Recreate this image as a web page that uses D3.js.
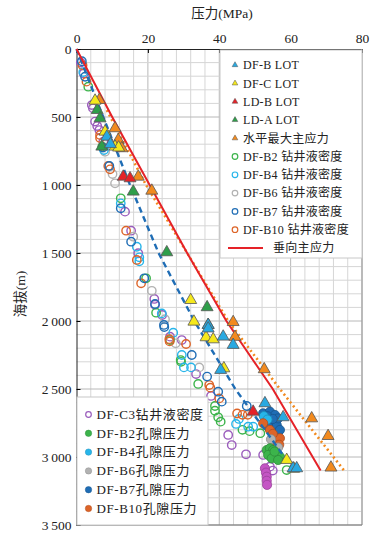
<!DOCTYPE html>
<html>
<head>
<meta charset="utf-8">
<script src="https://cdn.jsdelivr.net/npm/d3@7"></script>
<style>
  body { margin: 0; background: #fff; }
  svg text { font-family: "Liberation Serif", "DejaVu Serif", "Noto Sans CJK SC", serif !important; fill: #222; }
</style>
</head>
<body>
<script>
// ---- data: [pressure MPa, elevation m] ----
var xTicks = [0, 20, 40, 60, 80],
    yTicks = [0, 500, 1000, 1500, 2000, 2500, 3000, 3500];

// LOT / stress triangles
var dfbLot = [[8.5,645],[9.5,700],[36.9,2029],[41.1,2115],[43.9,2176],[36.9,2055],[40.4,2360],[52.8,2605],[57.9,2708],[60.7,3083],[61.7,3083]];
var dfcLot = [[5.2,380],[8.0,608],[10.8,718],[11.8,725],[32.0,1846],[32.9,2005],[36.3,2120],[38.3,2135],[41.3,2348],[58.9,3022],[60.9,3086]];
var ldbLot = [[13.1,939],[15.0,951],[49.5,2667]];
var ldaLot = [[5.8,449],[6.6,510],[7.1,718],[15.9,1049],[25.3,1495],[36.6,1899],[36.9,2029]];
var shMax  = [[6.4,375],[10.8,583],[11.7,669],[12.7,730],[17.3,939],[21.1,1042],[43.9,2008],[44.4,2117],[52.6,2355],[65.9,2716],[70.5,2846],[71.3,3078]];

// drilling fluid density (open circles)
var dfb2Mud  = [[3.3,277],[7.2,718],[12.4,1098],[19.5,1686],[22.3,1939],[26.2,2140],[29.2,2287],[29.3,2300],[34.1,2463],[38.8,2625],[38.8,2660],[39.7,2708],[40.4,2740],[46.5,2800],[48.5,2810],[51.5,2825],[58.9,3096]];
var dfb4Mud  = [[1.9,170],[7.7,743],[12.4,1135],[16.9,1454],[17.6,1532],[17.6,1561],[23.9,1944],[27.1,2086],[29.5,2250],[30.1,2341],[32.1,2341],[44.7,2757],[45.5,2720],[48.1,2777],[49.5,2777]];
var dfb6Mud  = [[8.0,755],[10.1,919],[10.8,988],[15.9,1380],[21.1,1778],[24.8,1987],[27.8,2164],[34.4,2341]];
var dfb7Mud  = [[1.5,90],[2.4,204],[7.4,725],[9.2,860],[12.4,1171],[15.3,1417],[19.0,1686],[22.0,1875],[24.5,2029],[24.6,2045],[32.3,2250],[36.6,2409],[39.7,2520],[40.7,2593],[47.7,2625]];
var dfb10Mud = [[1.7,120],[2.8,240],[6.6,632],[6.6,654],[8.9,860],[9.4,885],[13.9,1336],[16.9,1551],[18.1,1723],[26.0,2134],[26.1,2150],[30.7,2169],[37.2,2471],[37.5,2490],[40.0,2569],[45.0,2680],[46.5,2690],[48.0,2690]];
var dfc3Mud  = [[1.2,100],[2.0,180],[4.3,412],[4.6,435],[5.2,534],[5.8,566],[6.4,596],[7.5,682],[13.6,1196],[15.3,1336],[17.3,1502],[21.8,1838],[22.0,1880],[24.0,1956],[26.2,2115],[29.5,2140],[33.5,2390],[37.7,2551],[42.5,2838],[43.5,2912],[47.5,2980],[52.3,2985],[54.2,3071],[55.0,3100]];

// pore pressure (filled circles)
var dfb2Pore  = [[53.3,2949],[54.2,2936],[55.1,2949],[56.1,2973],[57.0,2998],[53.7,2985],[54.7,3010],[56.5,3022],[55.5,2960]];
var dfb4Pore  = [[52.5,2700],[53.5,2725]];
var dfb6Pore  = [[54.5,2870],[56.5,2930]];
var dfb7Pore  = [[52.3,2679],[54.2,2667],[55.6,2691],[54.7,2740],[56.1,2765],[53.7,2777],[57.0,2801],[56.5,2716],[53.5,2700],[55.0,2720]];
var dfb10Pore = [[54.2,2801],[56.1,2887],[57.0,2862],[52.3,2752],[55.0,2830],[56.8,2910]];
var dfc3Pore  = [[52.8,3083],[53.1,3115],[53.3,3145],[53.3,3175],[53.4,3205]];

// trend lines
var svLine    = [[0,0],[10,500],[20.5,1000],[31,1500],[42,2000],[55,2500],[68.4,3100]];
var shMaxLine = [[8.5,450],[19.5,1000],[31,1500],[42.5,2000],[57,2500],[75,3100]];
var ppLine    = [[0,0],[7.5,500],[15,1000],[23,1500],[33,2000],[44.5,2500],[60.5,3080]];

// colours
var cBlue = "#29a9e1", cYellow = "#f5e81c", cRed = "#e52228", cGreen = "#2f9e4a", cOrange = "#f28a1e",
    cGreenC = "#3cb44b", cCyan = "#27b5ea", cGray = "#b2b2b2", cBlueC = "#1f6db5", cOrangeC = "#dd6428",
    cPurple = "#9a5cbc", cMagenta = "#c455c4";

var FONT = '"Liberation Serif", "DejaVu Serif", "Noto Sans CJK SC", serif';

////////////////
/// SETUP    ///
////////////////
var W = 391, H = 536;
var x = d3.scaleLinear().domain([0, 80]).range([76.5, 362]),
    y = d3.scaleLinear().domain([0, 3500]).range([49, 525]);

var svg = d3.select("body").append("svg")
    .attr("width", W).attr("height", H)
    .attr("font-family", FONT);

// grid
var grid = svg.append("g").attr("class", "grid");
d3.range(4, 81, 4).forEach(function(v) {
  grid.append("line")
    .attr("x1", x(v)).attr("x2", x(v)).attr("y1", y(0)).attr("y2", y(3500))
    .attr("stroke", v % 20 == 0 ? "#b8b8b8" : "#d6d6d6").attr("stroke-width", 1);
});
d3.range(100, 3501, 100).forEach(function(v) {
  grid.append("line")
    .attr("x1", x(0)).attr("x2", x(80)).attr("y1", y(v)).attr("y2", y(v))
    .attr("stroke", v % 500 == 0 ? "#b8b8b8" : "#d6d6d6").attr("stroke-width", 1);
});

// axes
var fmt = function(d) { return d >= 1000 ? Math.floor(d / 1000) + "\u2009" + d3.format("03")(d % 1000) : d; };

svg.append("g")
    .attr("transform", "translate(0," + y(0) + ")")
    .call(d3.axisTop(x).tickValues(xTicks).tickSize(-4).tickPadding(6))
    .attr("font-family", FONT)
    .call(function(g) {
      g.select(".domain").attr("stroke", "#222");
      g.selectAll("text").attr("font-size", 13.5).attr("fill", "#222");
    });

svg.append("g")
    .attr("transform", "translate(" + x(0) + ",0)")
    .call(d3.axisLeft(y).tickValues(yTicks).tickFormat(fmt).tickSize(-4).tickPadding(5))
    .attr("font-family", FONT)
    .call(function(g) {
      g.select(".domain").attr("stroke", "#222");
      g.selectAll("text").attr("font-size", 13.5).attr("fill", "#222");
    });

// axis titles
svg.append("text").attr("x", 222).attr("y", 18).attr("text-anchor", "middle")
    .attr("font-size", 13.5).text("压力(MPa)");
svg.append("text").attr("transform", "translate(25,294) rotate(-90)").attr("text-anchor", "middle")
    .attr("font-size", 13.5).text("海拔(m)");

var plot = svg.append("g");

function openCircles(data, color) {
  plot.selectAll(null).data(data).enter().append("circle")
    .attr("cx", function(d) { return x(d[0]); })
    .attr("cy", function(d) { return y(d[1]); })
    .attr("r", 4.2)
    .attr("fill", "none").attr("stroke", color).attr("stroke-width", 1.4);
}
function filledCircles(data, color) {
  plot.selectAll(null).data(data).enter().append("circle")
    .attr("cx", function(d) { return x(d[0]); })
    .attr("cy", function(d) { return y(d[1]); })
    .attr("r", 4.6)
    .attr("fill", color).attr("stroke", d3.color(color).darker(0.7)).attr("stroke-width", 0.8);
}
var triSym = d3.symbol().type(d3.symbolTriangle).size(62);
function triangles(data, color) {
  plot.selectAll(null).data(data).enter().append("path")
    .attr("d", triSym)
    .attr("transform", function(d) { return "translate(" + x(d[0]) + "," + y(d[1]) + ")"; })
    .attr("fill", color).attr("stroke", "#555").attr("stroke-width", 0.8);
}
var line = d3.line().x(function(d) { return x(d[0]); }).y(function(d) { return y(d[1]); });

// circles
openCircles(dfc3Mud, cPurple);
openCircles(dfb6Mud, cGray);
openCircles(dfb2Mud, cGreenC);
openCircles(dfb4Mud, cCyan);
openCircles(dfb10Mud, cOrangeC);
openCircles(dfb7Mud, cBlueC);
filledCircles(dfb7Pore, cBlueC);
filledCircles(dfb4Pore, cCyan);
filledCircles(dfb10Pore, cOrangeC);
filledCircles(dfb6Pore, cGray);
filledCircles(dfb2Pore, cGreenC);
filledCircles(dfc3Pore, cMagenta);

// trend lines
plot.append("path").datum(ppLine).attr("d", line)
    .attr("fill", "none").attr("stroke", cBlueC).attr("stroke-width", 2.4).attr("stroke-dasharray", "6,4");
plot.append("path").datum(shMaxLine).attr("d", line)
    .attr("fill", "none").attr("stroke", cOrange).attr("stroke-width", 2.6).attr("stroke-dasharray", "2,3");
plot.append("path").datum(svLine).attr("d", line)
    .attr("fill", "none").attr("stroke", cRed).attr("stroke-width", 2);

// triangles
triangles(shMax, cOrange);
triangles(ldaLot, cGreen);
triangles(dfcLot, cYellow);
triangles(dfbLot, cBlue);
triangles(ldbLot, cRed);

// plot frame (right / bottom)
svg.append("line").attr("x1", x(80)).attr("x2", x(80)).attr("y1", y(0)).attr("y2", y(3500)).attr("stroke", "#999");
svg.append("line").attr("x1", x(0)).attr("x2", x(80)).attr("y1", y(3500)).attr("y2", y(3500)).attr("stroke", "#777");

////////////////
/// LEGENDS  ///
////////////////
var legend1 = [
  {label: "DF-B LOT", type: "tri", color: cBlue},
  {label: "DF-C LOT", type: "tri", color: cYellow},
  {label: "LD-B LOT", type: "tri", color: cRed},
  {label: "LD-A LOT", type: "tri", color: cGreen},
  {label: "水平最大主应力", type: "tri", color: cOrange},
  {label: "DF-B2 钻井液密度", type: "open", color: cGreenC},
  {label: "DF-B4 钻井液密度", type: "open", color: cCyan},
  {label: "DF-B6 钻井液密度", type: "open", color: cGray},
  {label: "DF-B7 钻井液密度", type: "open", color: cBlueC},
  {label: "DF-B10 钻井液密度", type: "open", color: cOrangeC},
  {label: "垂向主应力", type: "line", color: cRed}
];
var legend2 = [
  {label: "DF-C3钻井液密度", type: "open", color: cPurple},
  {label: "DF-B2孔隙压力", type: "fill", color: cGreenC},
  {label: "DF-B4孔隙压力", type: "fill", color: cCyan},
  {label: "DF-B6孔隙压力", type: "fill", color: cGray},
  {label: "DF-B7孔隙压力", type: "fill", color: cBlueC},
  {label: "DF-B10孔隙压力", type: "fill", color: cOrangeC}
];

function drawLegend(items, box, x0, y0, step, fs, ls) {
  var g = svg.append("g");
  g.append("rect").attr("x", box[0]).attr("y", box[1]).attr("width", box[2]).attr("height", box[3])
    .attr("fill", "#fff").attr("stroke", "#c8c8c8");
  items.forEach(function(d, i) {
    var cy = y0 + i * step;
    if (d.type == "tri") {
      g.append("path").attr("d", d3.symbol().type(d3.symbolTriangle).size(14))
        .attr("transform", "translate(" + x0 + "," + cy + ")")
        .attr("fill", d.color).attr("stroke", "#555").attr("stroke-width", 0.5);
    } else if (d.type == "open") {
      g.append("circle").attr("cx", x0).attr("cy", cy).attr("r", 2.8)
        .attr("fill", "none").attr("stroke", d.color).attr("stroke-width", 1.2);
    } else if (d.type == "fill") {
      g.append("circle").attr("cx", x0).attr("cy", cy).attr("r", 3.2)
        .attr("fill", d.color).attr("stroke", d3.color(d.color).darker(0.6)).attr("stroke-width", 0.5);
    } else {
      g.append("line").attr("x1", x0 - 7).attr("x2", x0 + 28).attr("y1", cy).attr("y2", cy)
        .attr("stroke", d.color).attr("stroke-width", 2);
    }
    g.append("text").attr("x", d.type == "line" ? x0 + 38 : x0 + 8).attr("y", cy + 4.3)
      .attr("font-size", fs).attr("letter-spacing", ls).text(d.label);
  });
}

drawLegend(legend1, [220, 50, 142, 208], 235, 65, 18.3, 12, 0.3);
drawLegend(legend2, [77, 397, 131, 128], 88.5, 414.5, 18.8, 13, 0.6);
</script>
</body>
</html>
